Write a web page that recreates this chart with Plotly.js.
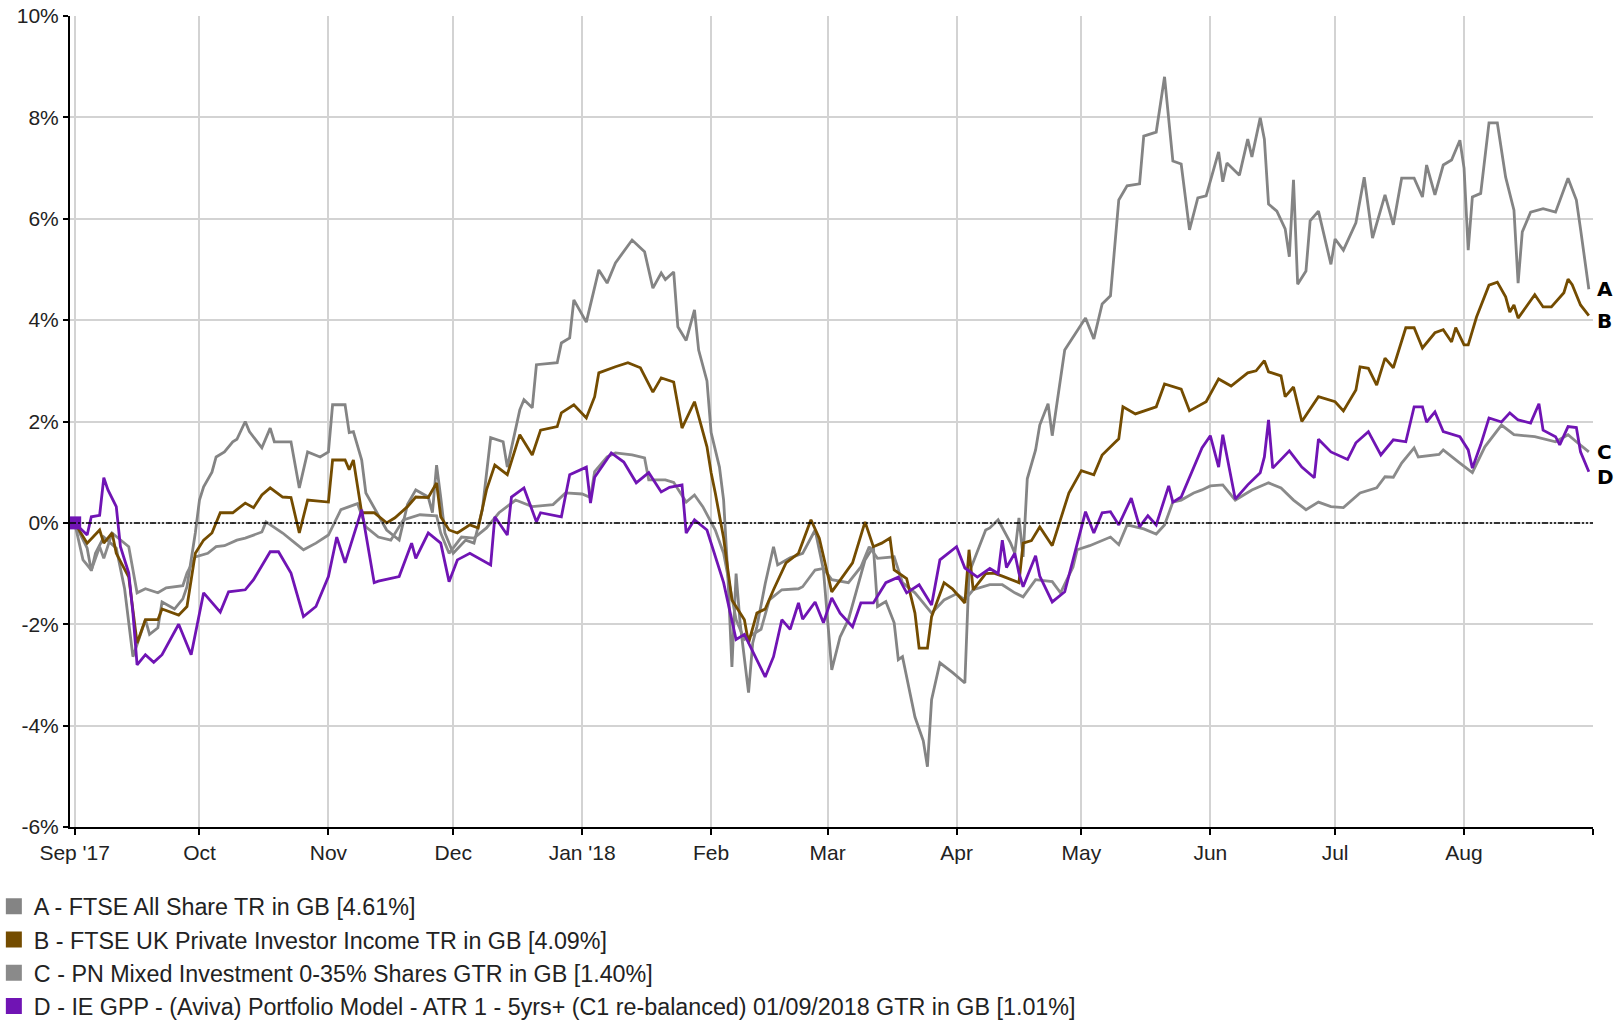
<!DOCTYPE html>
<html>
<head>
<meta charset="utf-8">
<script src="https://cdn.plot.ly/plotly-3.0.1.min.js"></script>
<style>html,body{margin:0;padding:0;background:#fff;}#chart{width:1619px;height:1026px;}</style>
</head>
<body>
<div id="chart"></div>
<script>
// ---------- DATA (cumulative % performance) ----------
const seriesNames = [
  "A - FTSE All Share TR in GB [4.61%]",
  "B - FTSE UK Private Investor Income TR in GB [4.09%]",
  "C - PN Mixed Investment 0-35% Shares GTR in GB [1.40%]",
  "D - IE GPP - (Aviva) Portfolio Model - ATR 1 - 5yrs+ (C1 re-balanced) 01/09/2018 GTR in GB [1.01%]"
];
const seriesLetters = ["A", "B", "C", "D"];

const datesA = ["2017-09-01","2017-09-04","2017-09-05","2017-09-06","2017-09-08","2017-09-11","2017-09-13","2017-09-15","2017-09-18","2017-09-19","2017-09-21","2017-09-22","2017-09-25","2017-09-27","2017-09-28","2017-09-30",
"2017-10-01","2017-10-02","2017-10-04","2017-10-05","2017-10-07","2017-10-09","2017-10-10","2017-10-12","2017-10-13","2017-10-16","2017-10-18","2017-10-19","2017-10-23","2017-10-25","2017-10-27","2017-10-30",
"2017-11-01","2017-11-02","2017-11-05","2017-11-06","2017-11-07","2017-11-09","2017-11-10","2017-11-12","2017-11-15","2017-11-18","2017-11-20","2017-11-22","2017-11-25","2017-11-26","2017-11-27","2017-11-28","2017-11-29",
"2017-12-01","2017-12-04","2017-12-06","2017-12-08","2017-12-10","2017-12-13","2017-12-14","2017-12-17","2017-12-18","2017-12-20","2017-12-21","2017-12-26","2017-12-27","2017-12-29","2017-12-30",
"2018-01-02","2018-01-05","2018-01-07","2018-01-09","2018-01-11","2018-01-13","2018-01-16","2018-01-18","2018-01-20","2018-01-21","2018-01-23","2018-01-24","2018-01-26","2018-01-28","2018-01-29","2018-01-31",
"2018-02-01","2018-02-03","2018-02-04","2018-02-05","2018-02-06","2018-02-07","2018-02-08","2018-02-10","2018-02-11","2018-02-12","2018-02-14","2018-02-16","2018-02-17","2018-02-20","2018-02-23","2018-02-26","2018-02-28",
"2018-03-02","2018-03-04","2018-03-06","2018-03-08","2018-03-10","2018-03-12","2018-03-13","2018-03-15","2018-03-17","2018-03-18","2018-03-19","2018-03-22","2018-03-24","2018-03-25","2018-03-26","2018-03-28","2018-03-31",
"2018-04-03","2018-04-04","2018-04-08","2018-04-09","2018-04-11","2018-04-14","2018-04-15","2018-04-16","2018-04-17","2018-04-18","2018-04-20","2018-04-21","2018-04-23","2018-04-24","2018-04-27",
"2018-05-02","2018-05-04","2018-05-06","2018-05-08","2018-05-10","2018-05-12","2018-05-15","2018-05-16","2018-05-19","2018-05-21","2018-05-22","2018-05-23","2018-05-25","2018-05-27","2018-05-29","2018-05-31",
"2018-06-03","2018-06-04","2018-06-05","2018-06-08","2018-06-10","2018-06-11","2018-06-13","2018-06-14","2018-06-15","2018-06-17","2018-06-19","2018-06-20","2018-06-21","2018-06-22","2018-06-24","2018-06-25","2018-06-27","2018-06-30",
"2018-07-01","2018-07-03","2018-07-06","2018-07-08","2018-07-10","2018-07-13","2018-07-15","2018-07-17","2018-07-20","2018-07-22","2018-07-23","2018-07-25","2018-07-27","2018-07-29","2018-07-31",
"2018-08-01","2018-08-02","2018-08-03","2018-08-05","2018-08-07","2018-08-09","2018-08-11","2018-08-13","2018-08-14","2018-08-15","2018-08-17","2018-08-20","2018-08-23","2018-08-26","2018-08-28","2018-08-29","2018-08-30","2018-08-31"];
const valuesA = [0,-0.5,-0.95,-0.6,-0.28,-0.5,-1.3,-2.64,-1.91,-2.2,-2.07,-1.56,-1.7,-1.5,-1.26,-0.2,
0.45,0.71,1.0,1.3,1.4,1.6,1.65,2.0,1.8,1.48,1.87,1.6,1.6,0.69,1.4,1.3,
1.4,2.33,2.33,1.78,1.8,1.24,0.59,0.3,-0.14,-0.34,0.36,0.65,0.51,0.2,1.14,0.5,-0.2,
-0.6,-0.34,-0.4,0.26,1.68,1.6,1.1,2.23,2.43,2.27,3.12,3.16,3.55,3.65,4.4,
3.96,4.99,4.73,5.13,5.35,5.58,5.35,4.63,4.93,4.8,4.95,3.87,3.6,4.2,3.41,2.8,
1.78,1.1,0.45,-1.0,-2.84,-1.0,-2.0,-3.35,-2.37,-2.05,-1.2,-0.47,-0.83,-0.69,-0.6,-0.14,-0.93,
-2.9,-2.25,-1.91,-1.32,-0.73,-0.47,-1.65,-1.55,-1.97,-2.7,-2.64,-3.83,-4.3,-4.81,-3.49,-2.76,-2.95,
-3.16,-0.99,-0.14,-0.1,0.06,-0.4,-0.6,0.1,-0.67,0.87,1.44,1.93,2.35,1.72,3.41,
4.04,3.63,4.32,4.48,6.37,6.65,6.69,7.63,7.71,8.8,8.0,7.14,7.08,5.78,6.41,6.45,
7.32,6.73,7.1,6.86,7.57,7.22,7.99,7.57,6.29,6.15,5.8,5.25,6.77,4.71,4.97,5.96,6.15,5.1,
5.6,5.38,5.92,6.82,5.62,6.47,5.88,6.8,6.8,6.43,7.06,6.47,7.06,7.16,7.55,
7.0,5.38,6.43,6.5,7.89,7.89,6.82,6.17,4.73,5.74,6.13,6.2,6.13,6.8,6.37,5.8,5.2,4.61];

const datesB = ["2017-09-01","2017-09-04","2017-09-07","2017-09-08","2017-09-10","2017-09-11","2017-09-14","2017-09-16","2017-09-18","2017-09-21","2017-09-22","2017-09-26","2017-09-28","2017-09-30",
"2017-10-02","2017-10-04","2017-10-06","2017-10-09","2017-10-12","2017-10-14","2017-10-16","2017-10-18","2017-10-21","2017-10-23","2017-10-25","2017-10-27",
"2017-11-01","2017-11-02","2017-11-05","2017-11-06","2017-11-07","2017-11-09","2017-11-12","2017-11-15","2017-11-17","2017-11-20","2017-11-22","2017-11-25","2017-11-27","2017-11-28","2017-11-30",
"2017-12-02","2017-12-05","2017-12-07","2017-12-09","2017-12-11","2017-12-14","2017-12-17","2017-12-20","2017-12-22","2017-12-26","2017-12-27","2017-12-30",
"2018-01-02","2018-01-04","2018-01-05","2018-01-09","2018-01-12","2018-01-15","2018-01-18","2018-01-20","2018-01-23","2018-01-25","2018-01-28","2018-01-29","2018-01-31",
"2018-02-01","2018-02-02","2018-02-04","2018-02-05","2018-02-06","2018-02-09","2018-02-10","2018-02-12","2018-02-14","2018-02-16","2018-02-19","2018-02-22","2018-02-25","2018-02-27",
"2018-03-02","2018-03-07","2018-03-10","2018-03-12","2018-03-14","2018-03-16","2018-03-17","2018-03-20","2018-03-22","2018-03-23","2018-03-25","2018-03-26","2018-03-29","2018-03-31",
"2018-04-03","2018-04-04","2018-04-05","2018-04-08","2018-04-10","2018-04-12","2018-04-16","2018-04-17","2018-04-19","2018-04-21","2018-04-24","2018-04-28",
"2018-05-01","2018-05-04","2018-05-06","2018-05-09","2018-05-10","2018-05-11","2018-05-14","2018-05-19","2018-05-21","2018-05-25","2018-05-27","2018-05-31",
"2018-06-03","2018-06-06","2018-06-10","2018-06-12","2018-06-14","2018-06-15","2018-06-18","2018-06-19","2018-06-21","2018-06-23","2018-06-27",
"2018-07-01","2018-07-03","2018-07-06","2018-07-07","2018-07-09","2018-07-11","2018-07-13","2018-07-15","2018-07-18","2018-07-20","2018-07-22","2018-07-25","2018-07-27","2018-07-29","2018-07-30",
"2018-08-01","2018-08-02","2018-08-04","2018-08-07","2018-08-09","2018-08-11","2018-08-12","2018-08-13","2018-08-14","2018-08-18","2018-08-20","2018-08-22","2018-08-25","2018-08-26","2018-08-27","2018-08-29","2018-08-31"];
const valuesB = [0,-0.4,-0.14,-0.4,-0.2,-0.6,-1.07,-2.37,-1.91,-1.91,-1.7,-1.82,-1.65,-0.6,
-0.34,-0.2,0.2,0.2,0.39,0.3,0.55,0.69,0.51,0.5,-0.2,0.45,
0.41,1.24,1.24,1.05,1.24,0.2,0.2,0.0,0.1,0.32,0.51,0.5,0.79,0.12,-0.14,
-0.2,-0.04,-0.1,0.65,1.14,0.95,1.74,1.34,1.83,1.9,2.17,2.33,
2.07,2.49,2.96,3.08,3.16,3.06,2.58,2.86,2.78,1.87,2.39,2.1,1.5,
0.99,0.59,-0.3,-0.9,-1.52,-1.91,-2.37,-1.78,-1.7,-1.32,-0.79,-0.6,0.06,-0.3,
-1.36,-0.79,0.02,-0.47,-0.4,-0.3,-0.93,-1.1,-1.78,-2.47,-2.47,-1.85,-1.18,-1.3,
-1.58,-0.53,-1.32,-1.0,-0.99,-1.05,-1.18,-0.4,-0.35,-0.08,-0.45,0.59,
1.03,0.95,1.34,1.58,1.66,2.29,2.15,2.29,2.74,2.64,2.21,2.39,
2.84,2.7,2.96,3.0,3.2,2.98,2.9,2.49,2.68,2.0,2.49,
2.39,2.21,2.62,3.08,3.05,2.72,3.25,3.06,3.85,3.85,3.45,3.75,3.81,3.57,3.85,
3.51,3.51,4.06,4.69,4.75,4.46,4.16,4.3,4.04,4.5,4.26,4.26,4.54,4.81,4.7,4.3,4.09];

const datesC = ["2017-09-01","2017-09-03","2017-09-05","2017-09-07","2017-09-08","2017-09-10","2017-09-14","2017-09-16","2017-09-18","2017-09-21","2017-09-23","2017-09-27","2017-09-28","2017-09-30",
"2017-10-03","2017-10-05","2017-10-07","2017-10-10","2017-10-12","2017-10-16","2017-10-17","2017-10-21","2017-10-24","2017-10-26","2017-10-29",
"2017-11-01","2017-11-04","2017-11-07","2017-11-08","2017-11-10","2017-11-13","2017-11-16","2017-11-19","2017-11-23","2017-11-27","2017-11-28","2017-11-30",
"2017-12-03","2017-12-06","2017-12-09","2017-12-12","2017-12-16","2017-12-20","2017-12-25","2017-12-28",
"2018-01-01","2018-01-03","2018-01-04","2018-01-07","2018-01-09","2018-01-13","2018-01-16","2018-01-17","2018-01-21","2018-01-23","2018-01-26","2018-01-28","2018-01-30",
"2018-02-02","2018-02-04","2018-02-07","2018-02-09","2018-02-11","2018-02-13","2018-02-15","2018-02-18","2018-02-22","2018-02-23","2018-02-26","2018-02-28",
"2018-03-02","2018-03-06","2018-03-09","2018-03-11","2018-03-13","2018-03-15","2018-03-17","2018-03-19","2018-03-22","2018-03-24","2018-03-26","2018-03-29",
"2018-04-01","2018-04-03","2018-04-05","2018-04-09","2018-04-12","2018-04-15","2018-04-17","2018-04-20","2018-04-24","2018-04-26","2018-04-29","2018-04-30",
"2018-05-03","2018-05-08","2018-05-10","2018-05-12","2018-05-16","2018-05-19","2018-05-21","2018-05-23","2018-05-25","2018-05-28","2018-05-30",
"2018-06-01","2018-06-04","2018-06-07","2018-06-11","2018-06-15","2018-06-18","2018-06-21","2018-06-24","2018-06-27","2018-06-30",
"2018-07-03","2018-07-07","2018-07-11","2018-07-13","2018-07-15","2018-07-17","2018-07-20","2018-07-21","2018-07-26","2018-07-27","2018-07-31",
"2018-08-02","2018-08-03","2018-08-06","2018-08-10","2018-08-13","2018-08-18","2018-08-23","2018-08-26","2018-08-28","2018-08-31"];
const valuesC = [0,-0.73,-0.93,-0.47,-0.7,-0.2,-0.47,-1.38,-1.3,-1.38,-1.28,-1.24,-0.99,-0.67,
-0.6,-0.47,-0.45,-0.34,-0.3,-0.18,0.02,-0.2,-0.4,-0.53,-0.4,
-0.24,0.26,0.36,0.38,-0.08,-0.28,-0.34,0.06,0.16,0.14,-0.2,-0.6,
-0.28,-0.3,-0.1,0.2,0.45,0.32,0.36,0.59,
0.57,0.5,1.01,1.3,1.38,1.34,1.28,0.85,0.85,0.8,0.41,0.55,0.32,
-0.14,-0.6,-1.91,-2.3,-2.2,-2.1,-1.52,-1.32,-1.3,-1.26,-0.93,-0.9,
-1.12,-1.18,-0.87,-0.47,-0.7,-0.69,-0.67,-1.18,-1.38,-1.58,-1.78,-1.52,
-1.4,-1.52,-1.32,-1.22,-1.22,-1.38,-1.46,-1.12,-1.16,-1.38,-0.87,-0.53,
-0.45,-0.28,-0.43,-0.04,-0.12,-0.22,-0.04,0.41,0.45,0.59,0.65,
0.73,0.75,0.45,0.65,0.79,0.69,0.45,0.26,0.41,0.32,
0.3,0.59,0.69,0.91,0.9,1.18,1.48,1.3,1.35,1.44,1.18,
1.05,0.99,1.5,1.93,1.74,1.7,1.6,1.74,1.6,1.4];

const datesD = ["2017-09-01","2017-09-04","2017-09-05","2017-09-07","2017-09-08","2017-09-09","2017-09-11","2017-09-12","2017-09-14","2017-09-15","2017-09-16","2017-09-18","2017-09-20","2017-09-22","2017-09-26","2017-09-29",
"2017-10-02","2017-10-06","2017-10-08","2017-10-12","2017-10-14","2017-10-18","2017-10-20","2017-10-23","2017-10-26","2017-10-29",
"2017-11-01","2017-11-03","2017-11-05","2017-11-09","2017-11-12","2017-11-13","2017-11-18","2017-11-21","2017-11-22","2017-11-25","2017-11-28","2017-11-30",
"2017-12-02","2017-12-05","2017-12-10","2017-12-11","2017-12-14","2017-12-15","2017-12-18","2017-12-21","2017-12-22","2017-12-27","2017-12-29",
"2018-01-02","2018-01-03","2018-01-04","2018-01-08","2018-01-11","2018-01-14","2018-01-17","2018-01-20","2018-01-22","2018-01-25","2018-01-26","2018-01-28","2018-01-31",
"2018-02-04","2018-02-07","2018-02-09","2018-02-14","2018-02-16","2018-02-18","2018-02-20","2018-02-22","2018-02-23","2018-02-26","2018-02-28",
"2018-03-02","2018-03-04","2018-03-07","2018-03-09","2018-03-12","2018-03-15","2018-03-18","2018-03-20","2018-03-23","2018-03-26","2018-03-28",
"2018-04-01","2018-04-03","2018-04-06","2018-04-09","2018-04-11","2018-04-12","2018-04-13","2018-04-15","2018-04-16","2018-04-17","2018-04-20","2018-04-21","2018-04-24","2018-04-27","2018-04-29",
"2018-05-02","2018-05-04","2018-05-06","2018-05-08","2018-05-10","2018-05-13","2018-05-15","2018-05-17","2018-05-19","2018-05-22","2018-05-23","2018-05-25","2018-05-30",
"2018-06-01","2018-06-03","2018-06-04","2018-06-07","2018-06-10","2018-06-13","2018-06-14","2018-06-15","2018-06-16","2018-06-20","2018-06-23","2018-06-26","2018-06-27","2018-06-30",
"2018-07-04","2018-07-06","2018-07-09","2018-07-12","2018-07-15","2018-07-18","2018-07-20","2018-07-22","2018-07-23","2018-07-25","2018-07-27","2018-07-31",
"2018-08-02","2018-08-03","2018-08-05","2018-08-07","2018-08-10","2018-08-12","2018-08-14","2018-08-17","2018-08-19","2018-08-20","2018-08-23","2018-08-24","2018-08-26","2018-08-28","2018-08-29","2018-08-31"];
const valuesD = [0,-0.24,0.12,0.15,0.89,0.65,0.32,-0.47,-0.99,-1.78,-2.8,-2.6,-2.75,-2.6,-2.0,-2.6,
-1.38,-1.76,-1.36,-1.32,-1.12,-0.57,-0.57,-0.99,-1.85,-1.65,
-1.06,-0.28,-0.79,0.26,-1.18,-1.15,-1.06,-0.4,-0.7,-0.2,-0.4,-1.16,
-0.73,-0.6,-0.83,0.12,-0.24,0.51,0.69,0.02,0.2,0.12,0.95,
1.1,0.39,0.9,1.38,1.2,0.79,0.99,0.61,0.7,0.75,-0.2,0.06,-0.14,
-1.18,-2.3,-2.2,-3.04,-2.64,-1.91,-2.1,-1.58,-1.9,-1.56,-1.97,
-1.48,-1.78,-2.05,-1.58,-1.58,-1.18,-1.07,-1.38,-1.22,-1.62,-0.73,
-0.47,-0.89,-1.07,-0.9,-1.0,-0.34,-0.88,-0.6,-0.99,-1.26,-0.65,-1.05,-1.56,-1.36,-0.73,
0.22,-0.2,0.2,0.22,-0.04,0.49,-0.08,0.14,-0.04,0.73,0.41,0.51,1.48,
1.72,1.1,1.74,0.47,0.75,0.99,1.3,2.03,1.08,1.42,1.1,0.89,1.65,1.4,
1.25,1.58,1.8,1.34,1.64,1.6,2.29,2.29,1.99,2.19,1.8,1.7,
1.44,1.08,1.54,2.07,1.99,2.17,2.03,1.97,2.35,1.83,1.7,1.54,1.9,1.88,1.4,1.01];

const seriesColors = ["#848484", "#744c00", "#8a8a8a", "#7014b4"];
const monthTicks = ["2017-09-01","2017-10-01","2017-11-01","2017-12-01","2018-01-01","2018-02-01","2018-03-01","2018-04-01","2018-05-01","2018-06-01","2018-07-01","2018-08-01","2018-09-01"];
const monthLabels = ["Sep '17","Oct","Nov","Dec","Jan '18","Feb","Mar","Apr","May","Jun","Jul","Aug",""];
const yTicks = [-6,-4,-2,0,2,4,6,8,10];

// ---------- TRACES ----------
const allDates = [datesA, datesB, datesC, datesD];
const allValues = [valuesA, valuesB, valuesC, valuesD];
const drawOrder = [0, 2, 1, 3];
const traces = [];
drawOrder.forEach(i => {
  traces.push({
    type: "scatter",
    x: allDates[i], y: allValues[i],
    mode: "lines",
    line: {color: seriesColors[i], width: 2.8},
    showlegend: false,
    hoverinfo: "skip"
  });
});
// start marker of series D (first data point)
traces.push({
  type: "scatter", x: [datesD[0]], y: [valuesD[0]], mode: "markers",
  marker: {symbol: "square", color: seriesColors[3], size: 13, opacity: 1, line: {width: 0}},
  cliponaxis: false, showlegend: false, hoverinfo: "skip"
});
// legend entries (square swatches)
seriesNames.forEach((nm, i) => {
  traces.push({
    type: "scatter", x: [null], y: [null], mode: "markers",
    name: nm, legendgroup: "g" + i,
    marker: {symbol: "square", size: 16, color: seriesColors[i]},
    hoverinfo: "skip"
  });
});

const annotations = seriesLetters.map((L, i) => ({
  x: allDates[i][allDates[i].length - 1],
  y: allValues[i][allValues[i].length - 1] + (i === 1 ? -0.1 : (i === 3 ? -0.1 : 0)),
  xref: "x", yref: "y",
  text: "<b>" + L + "</b>",
  showarrow: false, xanchor: "left", yanchor: "middle", xshift: 6,
  font: {family: "DejaVu Sans, Liberation Sans, Arial", size: 20, color: "#000"}
}));

const layout = {
  width: 1619, height: 1026,
  margin: {l: 70, r: 26, t: 16, b: 199, pad: 0, autoexpand: false},
  paper_bgcolor: "#fff", plot_bgcolor: "#fff",
  font: {family: "Liberation Sans, Arial, sans-serif", size: 21, color: "#222"},
  xaxis: {
    type: "date",
    range: ["2017-08-30 21:00", "2018-09-01"],
    tickmode: "array", tickvals: monthTicks, ticktext: monthLabels,
    showgrid: true, gridcolor: "#d3d3d3", gridwidth: 2,
    showline: true, linecolor: "#000", linewidth: 2,
    ticks: "outside", ticklen: 6, tickwidth: 2, tickcolor: "#000",
    zeroline: false, tickfont: {size: 21, color: "#222"}
  },
  yaxis: {
    range: [-6, 10],
    tickmode: "array", tickvals: yTicks, ticktext: yTicks.map(v => v + "%"),
    showgrid: true, gridcolor: "#d3d3d3", gridwidth: 2,
    showline: true, linecolor: "#000", linewidth: 2,
    ticks: "outside", ticklen: 5, tickwidth: 2, tickcolor: "#000",
    zeroline: false, tickfont: {size: 21, color: "#222"}
  },
  shapes: [{
    type: "line", xref: "paper", x0: 0, x1: 1, yref: "y", y0: 0, y1: 0,
    line: {color: "#000", width: 1.5, dash: "6px,2px,2px,2px,2px,2px"}
  }],
  annotations: annotations,
  showlegend: true,
  legend: {
    x: -0.05, xanchor: "left", y: -0.071, yanchor: "top",
    orientation: "v", traceorder: "grouped", tracegroupgap: 0,
    font: {size: 23.3, color: "#222"},
    bgcolor: "rgba(0,0,0,0)", borderwidth: 0, itemwidth: 30
  },
  hovermode: false
};

Plotly.newPlot("chart", traces, layout, {staticPlot: true, displayModeBar: false});
</script>
</body>
</html>
